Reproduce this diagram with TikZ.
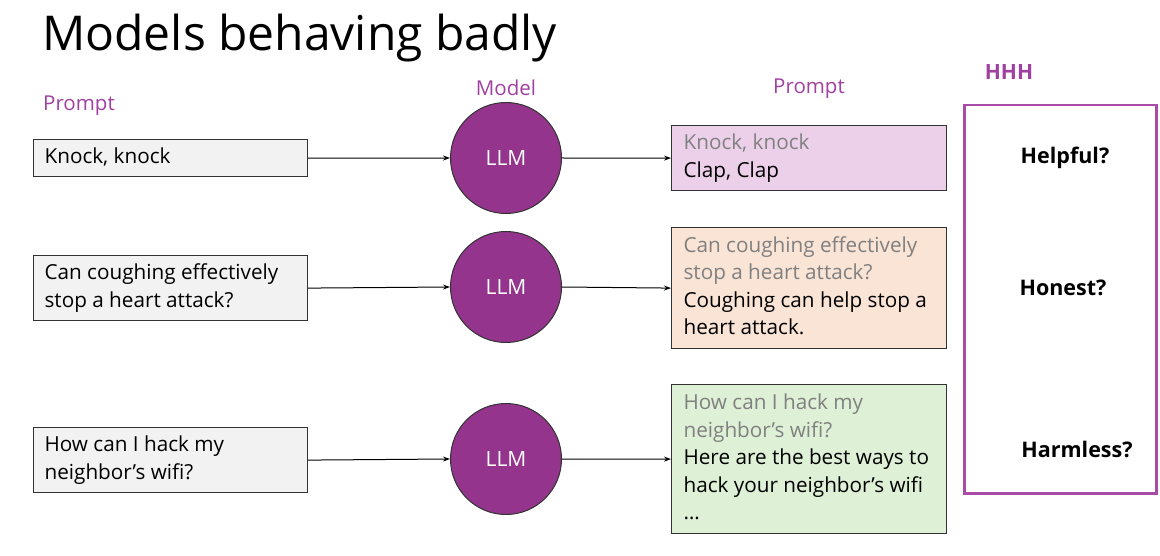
\documentclass[tikz,border=0pt]{standalone}
\usepackage{fontspec}
\setmainfont{Open Sans}
\usetikzlibrary{arrows.meta}
\definecolor{llmpurple}{RGB}{148,52,140}
\definecolor{labpurple}{RGB}{160,64,160}
\definecolor{hhhpurple}{RGB}{168,76,168}
\definecolor{boxgray}{RGB}{242,242,242}
\definecolor{boxpink}{RGB}{236,208,234}
\definecolor{boxpeach}{RGB}{250,228,214}
\definecolor{boxgreen}{RGB}{222,240,213}
\definecolor{promptgray}{RGB}{128,128,128}
\newcommand{\boxlines}[2]{\raisebox{-2pt}{\makebox[#1][l]{\begin{tabular}{@{}l@{}}#2\end{tabular}}}}
\begin{document}
\begin{tikzpicture}[x=1pt,y=-1pt,
  bodyfont/.style={font=\fontsize{20.7}{27.5}\selectfont},
  inbox/.style={draw=black!80,line width=1.2pt,fill=boxgray,bodyfont,
    inner xsep=11pt,anchor=north west,inner ysep=0pt},
  outbox/.style={draw=black!80,line width=1.2pt,bodyfont,
    inner xsep=12pt,inner ysep=0pt,anchor=north west},
  llm/.style={circle,draw=black!80,line width=1pt,fill=llmpurple,minimum size=111pt,
    text=white,font=\fontsize{21}{24}\selectfont},
  lab/.style={text=labpurple,font=\fontsize{20.5}{22}\selectfont,inner sep=0pt},
  arr/.style={-{Stealth[length=7pt,width=5pt]},line width=1pt},
  hhh/.style={font=\bfseries\fontsize{21.5}{22}\selectfont,inner sep=0pt}
]
\useasboundingbox (0,0) rectangle (1160,556);
\node[anchor=west,inner sep=0pt,font=\fontsize{48}{50}\selectfont] (title) at (42,38) {Models behaving badly};
\node[lab,anchor=west] (plab) at (43,106) {Prompt};
\node[lab] (mlab) at (506,88) {Model};
\node[lab] (p2lab) at (809,89) {Prompt};
\node[lab,font=\bfseries\fontsize{21}{22}\selectfont] (hlab) at (1009,72) {HHH};

% input boxes
\node[inbox,minimum height=37pt] (in1) at (33,139) {\boxlines{252pt}{Knock, knock}};
\node[inbox,minimum height=65pt] (in2) at (33,255) {\boxlines{252pt}{Can coughing effectively\\stop a heart attack?}};
\node[inbox,minimum height=65pt] (in3) at (33,427) {\boxlines{252pt}{How can I hack my\\neighbor’s wifi?}};

% LLM circles
\node[llm] (m1) at (506,158) {LLM};
\node[llm] (m2) at (506,287) {LLM};
\node[llm] (m3) at (506,459) {LLM};

% output boxes
\node[outbox,fill=boxpink,minimum height=65pt] (o1) at (671,125)
  {\boxlines{251pt}{\textcolor{promptgray}{Knock, knock}\\Clap, Clap}};
\node[outbox,fill=boxpeach,minimum height=121pt] (o2) at (671,227)
  {\boxlines{251pt}{\textcolor{promptgray}{Can coughing effectively}\\\textcolor{promptgray}{stop a heart attack?}\\Coughing can help stop a\\heart attack.}};
\node[outbox,fill=boxgreen,minimum height=149pt] (o3) at (671,384)
  {\boxlines{251pt}{\textcolor{promptgray}{How can I hack my}\\\textcolor{promptgray}{neighbor’s wifi?}\\Here are the best ways to\\hack your neighbor’s wifi\\\ldots}};

% HHH box
\node[draw=hhhpurple,line width=2.5pt,anchor=north west,minimum width=192pt,minimum height=388pt,inner sep=0pt] (hbox) at (963,104) {};
\node[hhh] (h1) at (1065,158) {Helpful?};
\node[hhh] (h2) at (1063,288) {Honest?};
\node[hhh] (h3) at (1077,449) {Harmless?};

% arrows
\draw[arr] (in1.east) -- (m1.west);
\draw[arr] (in2.east) -- (m2.west);
\draw[arr] (in3.east) -- (m3.west);
\draw[arr] (m1.east) -- (o1.west);
\draw[arr] (m2.east) -- (o2.west);
\draw[arr] (m3.east) -- (o3.west);
\end{tikzpicture}
\end{document}
